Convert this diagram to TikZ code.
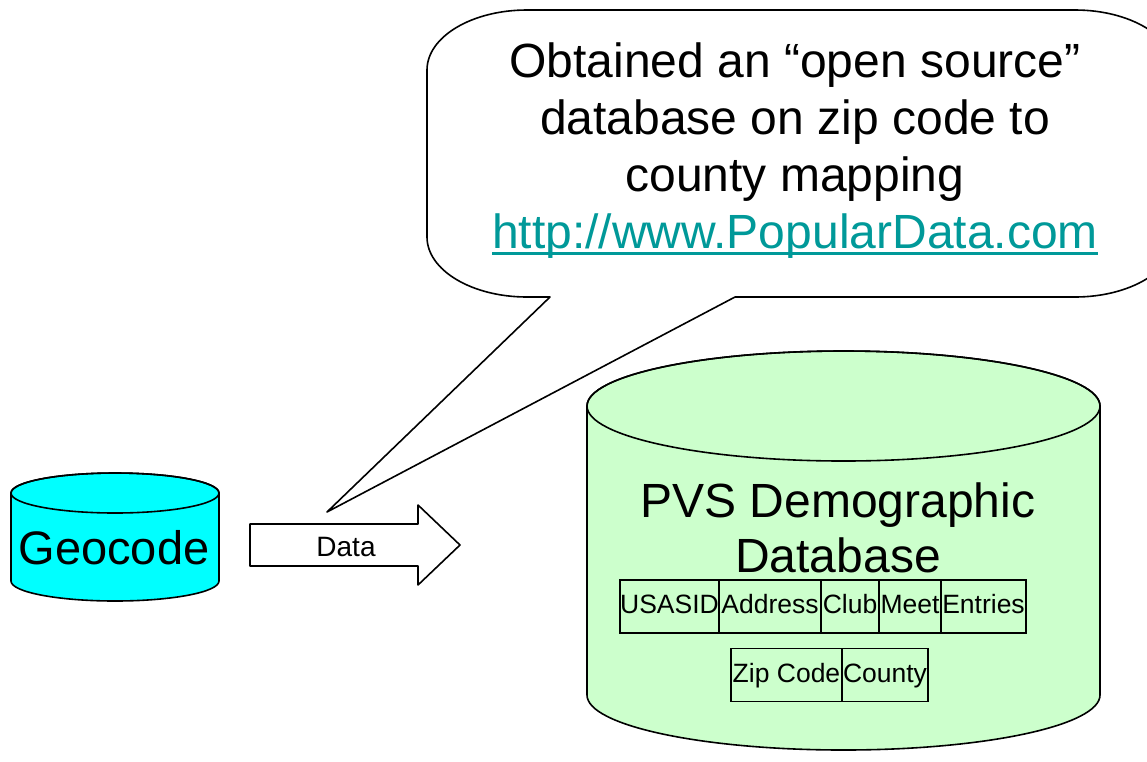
\documentclass[tikz,border=0pt]{standalone}
\usepackage{fontspec}
\setmainfont{Liberation Sans}
\definecolor{cyanfill}{HTML}{00FFFF}
\definecolor{greenfill}{HTML}{CCFFCC}
\definecolor{linkteal}{HTML}{009999}
\newcommand{\thickul}[1]{\setbox0\hbox{#1}\rlap{\rule[-6pt]{\wd0}{3pt}}\box0}
\begin{document}
\begin{tikzpicture}[x=1pt,y=-1pt,
  outline/.style={draw=black,line width=1.6pt,line join=round},
  cell/.style={draw=black,line width=1.4pt,inner sep=0pt,minimum height=53pt,
    font=\fontsize{26.5}{30}\selectfont,text height=19pt,text depth=5pt},
  bigtext/.style={align=center,font=\fontsize{48}{57}\selectfont}]
\useasboundingbox (0,0) rectangle (1147,761);
% callout
\begin{scope}
\clip (0,0) rectangle (1147,761);
\draw[outline,fill=white] (735,297) -- (1075,297)
  arc[start angle=90,end angle=0,x radius=100,y radius=60] -- (1175,70)
  arc[start angle=0,end angle=-90,x radius=100,y radius=60] -- (527,10)
  arc[start angle=-90,end angle=-180,x radius=100,y radius=60] -- (427,237)
  arc[start angle=180,end angle=90,x radius=100,y radius=60] -- (550,297)
  -- (327,512) coordinate (tip) -- cycle;
\end{scope}
\node[bigtext] (note) at (795,151) {Obtained an “open source”\\database on zip code to\\county mapping\\\textcolor{linkteal}{\thickul{http://www.PopularData.com}}};
% arrow
\draw[outline,fill=white] (250,524) -- (418,524) -- (418,505) -- (460,545) -- (418,585) -- (418,566) -- (250,566) -- cycle;
\node[font=\fontsize{28}{32}\selectfont] (data) at (346,547) {Data};
% geocode cylinder
\draw[outline,fill=cyanfill] (11,493) -- (11,581)
  arc[start angle=180,end angle=0,x radius=104,y radius=20] -- (219,493)
  arc[start angle=0,end angle=-180,x radius=104,y radius=20] -- cycle;
\draw[outline] (115,493) ellipse[x radius=104,y radius=20];
\node[font=\fontsize{47}{55}\selectfont] (geo) at (114,548) {Geocode};
% big cylinder
\draw[outline,fill=greenfill] (587,406) -- (587,695)
  arc[start angle=180,end angle=0,x radius=256.5,y radius=55] -- (1100,406)
  arc[start angle=0,end angle=-180,x radius=256.5,y radius=55] -- cycle;
\draw[outline] (843.5,406) ellipse[x radius=256.5,y radius=55];
\node[bigtext,font=\fontsize{48}{55}\selectfont] (pvs) at (838,528) {PVS Demographic\\Database};
% table cells
\node[cell,minimum width=99pt] (usasid) at (669.5,606.5) {USASID};
\node[cell,minimum width=102pt] (address) at (770,606.5) {Address};
\node[cell,minimum width=58pt] (club) at (850,606.5) {Club};
\node[cell,minimum width=62pt] (meet) at (910,606.5) {Meet};
\node[cell,minimum width=85pt] (entries) at (983.5,606.5) {Entries};
\node[cell,minimum width=111pt] (zip) at (786.5,675) {Zip Code};
\node[cell,minimum width=86pt] (county) at (885,675) {County};
\end{tikzpicture}
\end{document}
